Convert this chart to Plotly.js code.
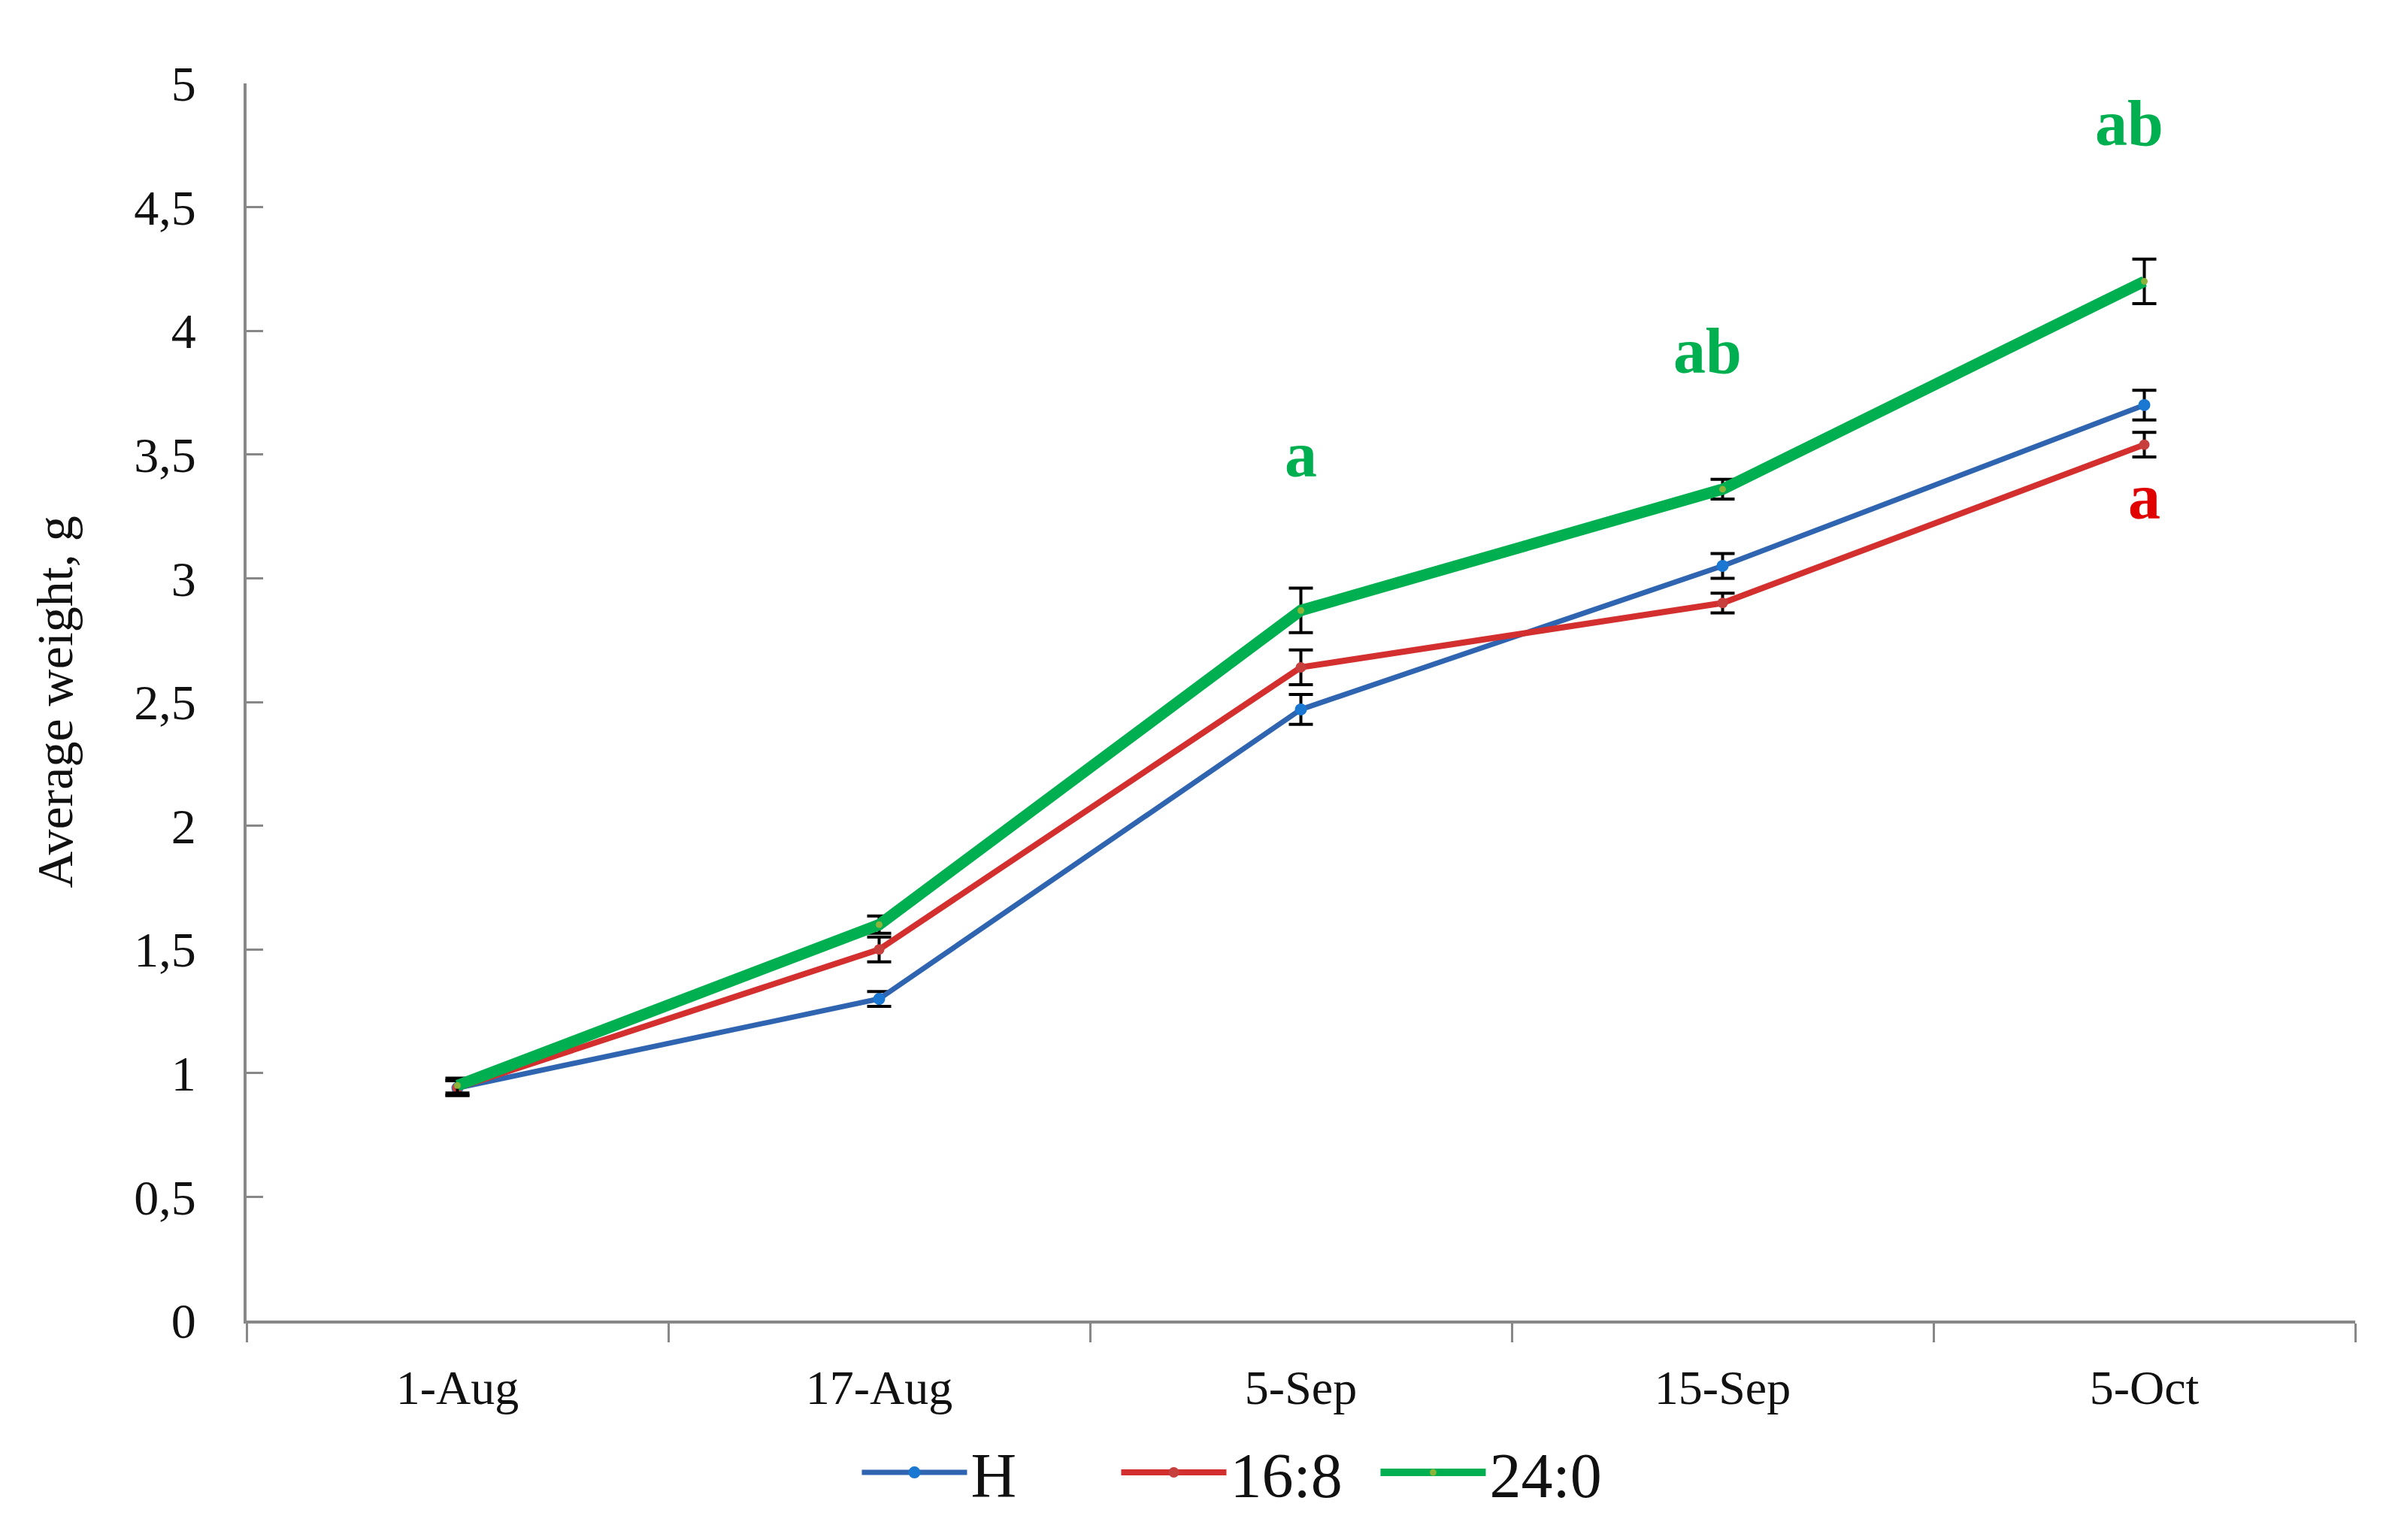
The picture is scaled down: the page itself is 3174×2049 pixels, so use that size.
<!DOCTYPE html>
<html>
<head>
<meta charset="utf-8">
<script src="https://cdn.plot.ly/plotly-3.0.1.min.js"></script>
<style>html,body{margin:0;padding:0;background:#fff;}#chart{width:3174px;height:2049px;}</style>
</head>
<body>
<div id="chart"></div>
<script>
// Categories (sampling dates)
const dates = ["1-Aug", "17-Aug", "5-Sep", "15-Sep", "5-Oct"];
// Average weight, g
const weightH    = [0.94, 1.30, 2.47, 3.05, 3.70];
const weight16_8 = [0.94, 1.50, 2.64, 2.90, 3.54];
const weight24_0 = [0.95, 1.60, 2.87, 3.36, 4.20];
// Standard errors
const errH    = [0.03, 0.03, 0.06, 0.05, 0.06];
const err16_8 = [0.03, 0.05, 0.07, 0.04, 0.05];
const err24_0 = [0.03, 0.035, 0.09, 0.04, 0.09];
// Significance letters
const sigDates  = ["5-Sep", "15-Sep", "5-Oct", "5-Oct"];
const sigY      = [3.50, 3.92, 4.84, 3.33];
const sigText   = ["a", "ab", "ab", "a"];
const sigSeries = ["24:0", "24:0", "24:0", "16:8"];
const yTicks = [0, 0.5, 1, 1.5, 2, 2.5, 3, 3.5, 4, 4.5, 5];

const FONT = "Liberation Serif, Times New Roman, serif";
const colors = {"H": "#2F64B0", "16:8": "#D42F2F", "24:0": "#00B050"};

function errBar(arr) {
  return {type: "data", array: arr, visible: true, color: "#000000", thickness: 4, width: 16};
}

const traces = [
  {name: "H", x: dates, y: weightH, type: "scatter", mode: "lines+markers",
   line: {color: colors["H"], width: 7},
   marker: {color: "#1A78D2", size: 16, symbol: "circle"},
   error_y: errBar(errH)},
  {name: "16:8", x: dates, y: weight16_8, type: "scatter", mode: "lines+markers",
   line: {color: colors["16:8"], width: 8},
   marker: {color: "#C8403E", size: 14, symbol: "circle"},
   error_y: errBar(err16_8)},
  {name: "24:0", x: dates, y: weight24_0, type: "scatter", mode: "lines+markers",
   line: {color: colors["24:0"], width: 15},
   marker: {color: "#8DB43A", size: 9, symbol: "circle"},
   error_y: errBar(err24_0)}
];

const annotations = sigText.map((t, i) => ({
  x: sigDates[i], y: sigY[i], xref: "x", yref: "y", text: t, showarrow: false,
  xshift: t === "ab" ? -20 : 0,
  font: {family: FONT, size: 86, color: sigSeries[i] === "16:8" ? "#E00000" : "#00B050", weight: "bold"},
  xanchor: "center", yanchor: "middle"
}));

const layout = {
  width: 3174, height: 2049,
  paper_bgcolor: "#ffffff", plot_bgcolor: "#ffffff",
  separators: ", ",
  margin: {l: 328, r: 41, t: 111, b: 292},
  font: {family: FONT, color: "#111111"},
  showlegend: true,
  legend: {
    orientation: "h", x: 0.29, xanchor: "left", y: -0.123, yanchor: "middle",
    font: {family: FONT, size: 84, color: "#111111"},
    entrywidth: 190, entrywidthmode: "pixels", itemwidth: 140,
    bgcolor: "rgba(0,0,0,0)"
  },
  xaxis: {
    type: "category", categoryorder: "array", categoryarray: dates,
    range: [-0.5, 4.5],
    showline: true, linecolor: "#888888", linewidth: 4,
    ticks: "outside", tickson: "boundaries", ticklen: 25, tickwidth: 3, tickcolor: "#888888",
    showgrid: false, zeroline: false,
    tickfont: {family: FONT, size: 64, color: "#111111"},
    ticklabelstandoff: 30
  },
  yaxis: {
    range: [0, 5], tickvals: yTicks,
    showline: true, linecolor: "#888888", linewidth: 4,
    ticks: "inside", ticklen: 22, tickwidth: 3, tickcolor: "#888888",
    showgrid: false, zeroline: false,
    tickfont: {family: FONT, size: 66, color: "#111111"},
    ticklabelstandoff: 50,
    title: {text: "Average weight, g", font: {family: FONT, size: 68, color: "#111111"}, standoff: 60}
  },
  annotations: annotations
};

Plotly.newPlot("chart", traces, layout, {displayModeBar: false, staticPlot: true});
</script>
</body>
</html>
